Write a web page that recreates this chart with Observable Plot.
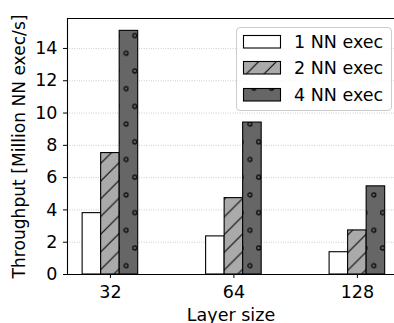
<!DOCTYPE html>
<html>
<head>
<meta charset="utf-8">
<script src="https://cdn.jsdelivr.net/npm/d3@7"></script>
<script src="https://cdn.jsdelivr.net/npm/@observablehq/plot@0.6"></script>
<style>
  html, body { margin: 0; padding: 0; background: white; }
  #wrap { position: relative; width: 394px; height: 323px; overflow: hidden; font-family: "DejaVu Sans", sans-serif; }
  #legend { position: absolute; left: 236px; top: 27px; width: 154px; height: 82px;
    border: 1px solid #cccccc; border-radius: 4px; background: rgba(255,255,255,0.8); }
  .entry { position: absolute; left: 6px; height: 14px; display: flex; align-items: center; }
  .entry span { position: absolute; left: 51px; font-size: 17.5px; white-space: nowrap; line-height: 14px; }
</style>
</head>
<body>
<svg width="0" height="0" style="position:absolute">
  <defs>
    <pattern id="hatch" patternUnits="userSpaceOnUse" x="-1.4" y="0" width="17.7" height="17.7">
      <rect width="17.7" height="17.7" fill="#aaaaaa"/>
      <line x1="0" y1="17.7" x2="17.7" y2="0" stroke="black" stroke-width="1"/>
      <line x1="-2" y1="2" x2="2" y2="-2" stroke="black" stroke-width="1"/>
      <line x1="15.7" y1="19.7" x2="19.7" y2="15.7" stroke="black" stroke-width="1"/>
    </pattern>
    <pattern id="dots" patternUnits="userSpaceOnUse" x="121.6" y="44.45" width="17.7" height="35.4">
      <rect width="17.7" height="35.4" fill="#666666"/>
      <circle cx="4.4" cy="8.85" r="2" fill="none" stroke="black" stroke-width="1.2"/>
      <circle cx="13.25" cy="26.55" r="2" fill="none" stroke="black" stroke-width="1.2"/>
    </pattern>
  </defs>
</svg>
<div id="wrap"></div>
<script>
const layerSizes = ["32", "64", "128"];
const seriesNames = ["1 NN exec", "2 NN exec", "4 NN exec"];
const exec1 = [3.80, 2.36, 1.38];
const exec2 = [7.52, 4.73, 2.73];
const exec4 = [15.09, 9.41, 5.46];
const yTicks = [0, 2, 4, 6, 8, 10, 12, 14];

const seriesFill = ["white", "url(#hatch)", "url(#dots)"];
const barWidth = 0.15;
const seriesValues = [exec1, exec2, exec4];

const rows = [];
seriesValues.forEach((vals, s) => {
  vals.forEach((v, i) => {
    const center = i + (s - 1) * barWidth;
    rows.push({series: s, cat: i, x1: center - barWidth / 2, x2: center + barWidth / 2, value: v, fill: seriesFill[s]});
  });
});

const xMin = -0.3475, xMax = 2.3475;
const yMax = 15.855;

const chart = Plot.plot({
  width: 394,
  height: 323,
  marginLeft: 67,
  marginRight: 0,
  marginTop: 18,
  marginBottom: 49,
  style: {fontFamily: "DejaVu Sans, sans-serif", fontSize: "17.5px", background: "white", color: "black"},
  x: {domain: [xMin, xMax], range: [67, 399.8]},
  y: {domain: [0, yMax]},
  color: {type: "identity"},
  marks: [
    Plot.gridY(yTicks.slice(1), {stroke: "#b0b0b0", strokeOpacity: 1, strokeWidth: 0.8, strokeDasharray: "0.8,1.6"}),
    Plot.rectY(rows, {x1: "x1", x2: "x2", y1: 0, y2: "value", fill: "fill", stroke: "black", strokeWidth: 1.1}),
    Plot.ruleX([xMin], {stroke: "black", strokeWidth: 1.1}),
    Plot.ruleY([0], {stroke: "black", strokeWidth: 1.1}),
    Plot.ruleY([yMax], {stroke: "black", strokeWidth: 1.1}),
    Plot.axisX([0, 1, 2], {tickFormat: i => layerSizes[i], tickSize: 4, tickPadding: 7,
      label: "Layer size", labelAnchor: "center", labelArrow: "none", labelOffset: 46}),
    Plot.axisY(yTicks, {tickSize: 4, tickPadding: 6, label: null}),
    Plot.axisY([], {tickSize: 0, fontSize: "17.1px",
      label: "Throughput [Million NN exec/s]", labelAnchor: "center", labelArrow: "none", labelOffset: 55})
  ]
});
document.getElementById("wrap").appendChild(chart);

const legend = document.createElement("div");
legend.id = "legend";
const swatchFills = ["white", "url(#hatch)", "url(#dots)"];
seriesNames.forEach((name, s) => {
  const e = document.createElement("div");
  e.className = "entry";
  e.style.top = (7 + s * 26.3) + "px";
  const ns = "http://www.w3.org/2000/svg";
  const sw = document.createElementNS(ns, "svg");
  sw.setAttribute("width", 38);
  sw.setAttribute("height", 14);
  sw.style.overflow = "visible";
  const r = document.createElementNS(ns, "rect");
  r.setAttribute("x", 0.5); r.setAttribute("y", 0.5);
  r.setAttribute("width", 37); r.setAttribute("height", 12.5);
  r.setAttribute("fill", swatchFills[s]);
  r.setAttribute("stroke", "black"); r.setAttribute("stroke-width", 1.1);
  sw.appendChild(r);
  e.appendChild(sw);
  const t = document.createElement("span");
  t.textContent = name;
  e.appendChild(t);
  legend.appendChild(e);
});
document.getElementById("wrap").appendChild(legend);
</script>
</body>
</html>
